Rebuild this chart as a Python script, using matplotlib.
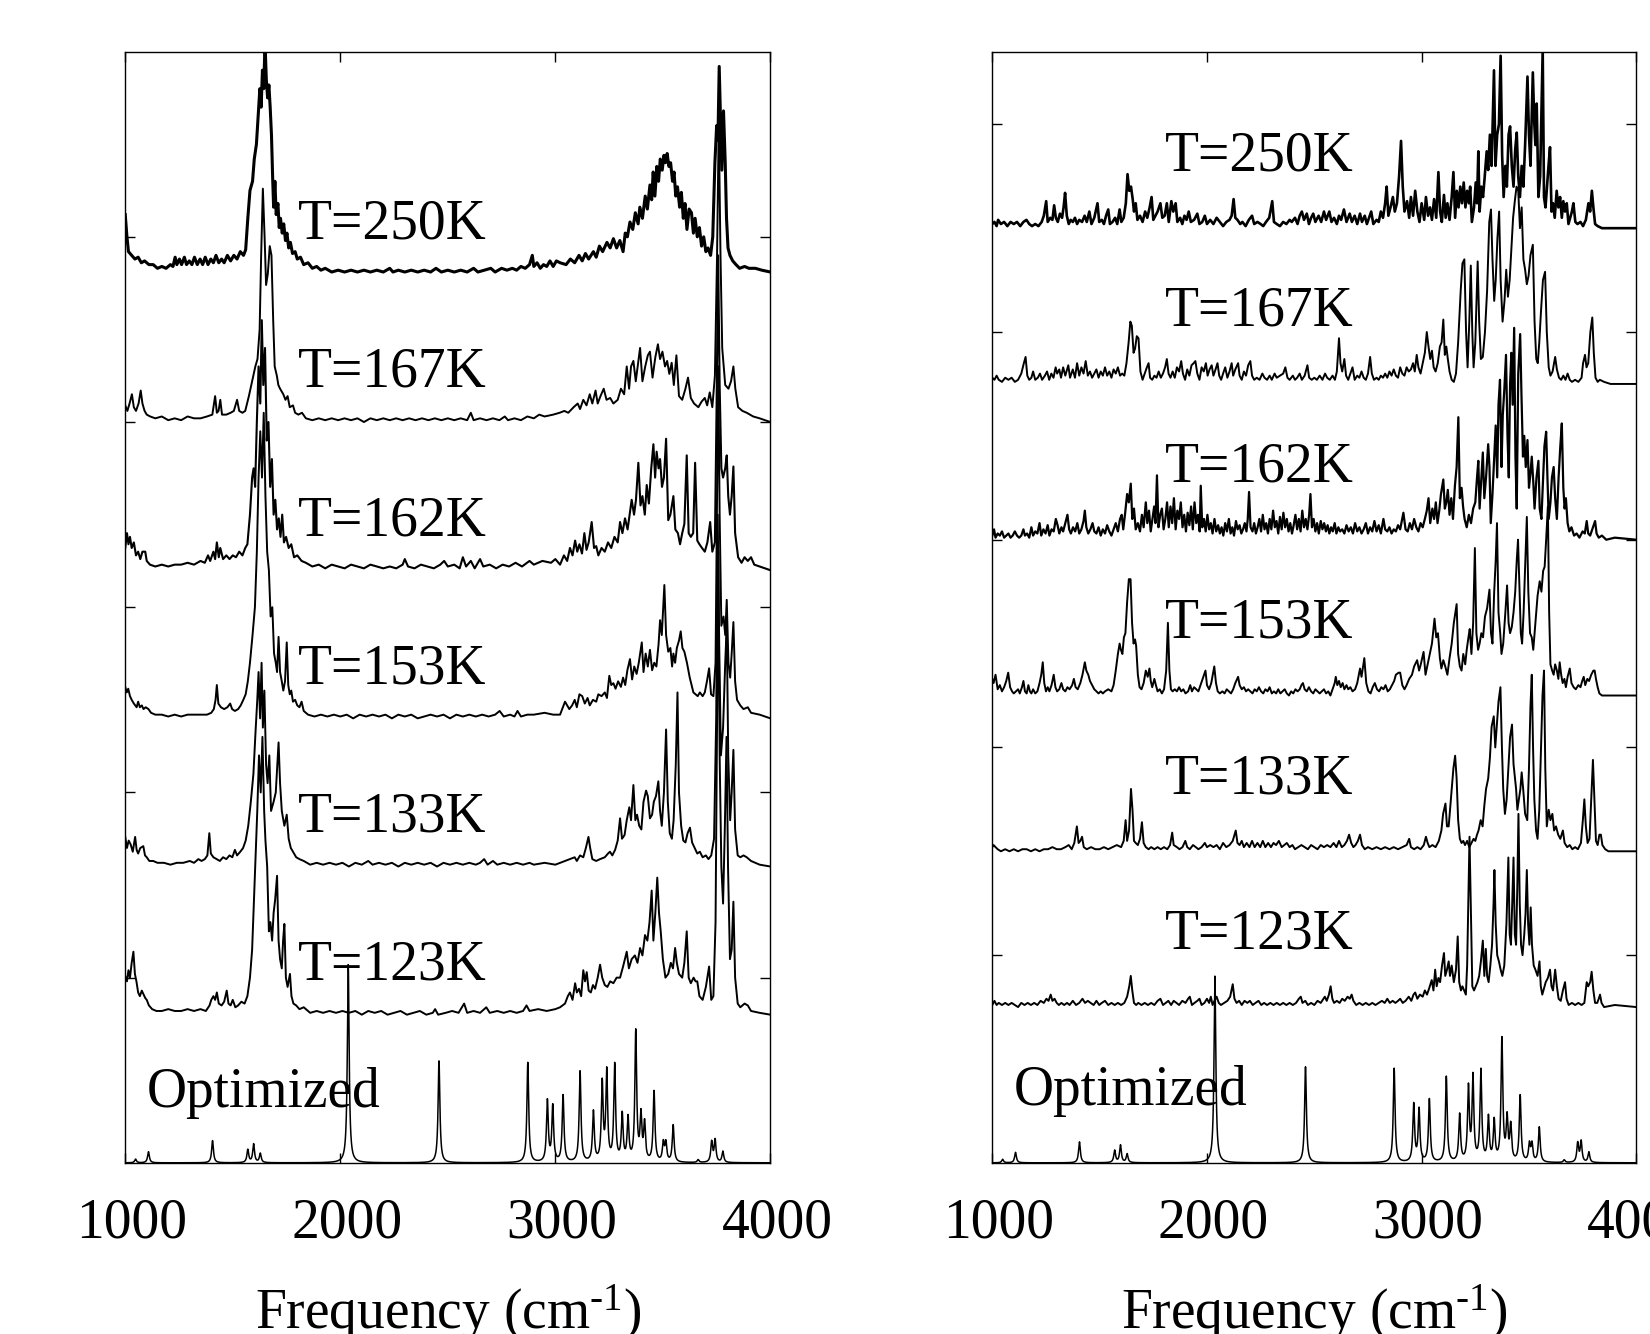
import numpy as np
import matplotlib.pyplot as plt
from matplotlib.transforms import ScaledTranslation

plt.rcParams['font.family'] = ['Liberation Serif', 'DejaVu Serif']
plt.rcParams['mathtext.fontset'] = 'custom'
plt.rcParams['mathtext.rm'] = 'Liberation Serif'
plt.rcParams['mathtext.it'] = 'Liberation Serif:italic'

# ---------------------------------------------------------------
# data: (frequency, intensity above baseline)
# ---------------------------------------------------------------
LABELS = ['T=250K', 'T=167K', 'T=162K', 'T=153K', 'T=133K', 'T=123K']
LEFT_OFFSETS = [4.8, 4.0, 3.2, 2.4, 1.6, 0.8]
RIGHT_OFFSETS = [4.5, 3.75, 3.0, 2.25, 1.5, 0.75]

# optimized structure: stick positions and intensities (left-panel units)
OPT_POS = [1048, 1108, 1406, 1570, 1597, 1628, 2037, 2459, 2872, 2963, 2988,
           3036, 3115, 3177, 3218, 3239, 3276, 3311, 3338, 3374, 3398, 3415,
           3459, 3502, 3514, 3548, 3664, 3727, 3743, 3779]
OPT_INT = [0.02, 0.06, 0.12, 0.07, 0.1, 0.05, 1.07, 0.55, 0.54, 0.33, 0.3,
           0.36, 0.49, 0.27, 0.42, 0.48, 0.52, 0.25, 0.23, 0.7, 0.24, 0.2,
           0.38, 0.1, 0.1, 0.2, 0.015, 0.11, 0.12, 0.06]
OPT_RIGHT_SCALE = 0.84

L_250K = [
    (1000, 0.32), (1008, 0.2), (1015, 0.12), (1030, 0.1), (1045, 0.08), (1060, 0.09),
    (1075, 0.06), (1090, 0.07), (1110, 0.05), (1130, 0.05), (1150, 0.03), (1170, 0.04),
    (1190, 0.03), (1210, 0.05), (1222, 0.04), (1232, 0.09), (1240, 0.05), (1252, 0.08),
    (1262, 0.05), (1275, 0.09), (1285, 0.05), (1298, 0.07), (1310, 0.05), (1322, 0.09),
    (1335, 0.05), (1348, 0.08), (1360, 0.05), (1372, 0.09), (1385, 0.05), (1398, 0.08),
    (1410, 0.06), (1422, 0.1), (1435, 0.06), (1448, 0.08), (1460, 0.06), (1475, 0.1),
    (1490, 0.07), (1505, 0.1), (1520, 0.08), (1535, 0.12), (1550, 0.1), (1560, 0.13),
    (1570, 0.3), (1580, 0.45), (1592, 0.5), (1600, 0.62), (1610, 0.7), (1618, 0.85),
    (1626, 1.0), (1632, 0.9), (1638, 1.1), (1644, 1.0), (1650, 1.25), (1656, 1.05),
    (1662, 0.95), (1668, 1.02), (1674, 0.9), (1680, 0.75), (1686, 0.5), (1690, 0.36),
    (1696, 0.5), (1702, 0.32), (1710, 0.38), (1716, 0.25), (1722, 0.3), (1730, 0.22),
    (1737, 0.27), (1745, 0.18), (1752, 0.22), (1760, 0.14), (1768, 0.17), (1778, 0.11),
    (1790, 0.12), (1800, 0.08), (1815, 0.09), (1830, 0.05), (1850, 0.06), (1870, 0.03),
    (1890, 0.04), (1910, 0.02), (1930, 0.03), (1960, 0.01), (1990, 0.02), (2020, 0.01),
    (2050, 0.02), (2080, 0.01), (2110, 0.02), (2140, 0.01), (2170, 0.02), (2200, 0.01),
    (2230, 0.03), (2245, 0.01), (2270, 0.02), (2300, 0.01), (2330, 0.02), (2360, 0.01),
    (2390, 0.02), (2420, 0.01), (2445, 0.03), (2470, 0.01), (2500, 0.02), (2530, 0.01),
    (2560, 0.02), (2590, 0.01), (2620, 0.03), (2640, 0.01), (2670, 0.02), (2700, 0.03),
    (2720, 0.01), (2750, 0.03), (2775, 0.02), (2800, 0.03), (2820, 0.02), (2840, 0.04),
    (2860, 0.03), (2880, 0.05), (2893, 0.1), (2900, 0.04), (2915, 0.06), (2930, 0.03),
    (2945, 0.05), (2960, 0.04), (2975, 0.07), (2990, 0.04), (3005, 0.07), (3022, 0.06),
    (3050, 0.05), (3070, 0.08), (3090, 0.06), (3110, 0.1), (3125, 0.07), (3140, 0.11),
    (3155, 0.08), (3177, 0.12), (3190, 0.09), (3205, 0.15), (3220, 0.12), (3240, 0.17),
    (3255, 0.14), (3270, 0.19), (3285, 0.14), (3300, 0.18), (3315, 0.12), (3325, 0.22),
    (3335, 0.2), (3347, 0.28), (3360, 0.24), (3372, 0.33), (3385, 0.27), (3393, 0.36),
    (3405, 0.3), (3418, 0.42), (3428, 0.35), (3440, 0.48), (3448, 0.4), (3455, 0.55),
    (3463, 0.42), (3472, 0.58), (3480, 0.5), (3488, 0.62), (3497, 0.56), (3505, 0.64),
    (3512, 0.6), (3520, 0.65), (3528, 0.58), (3536, 0.6), (3545, 0.5), (3552, 0.55),
    (3560, 0.42), (3568, 0.47), (3578, 0.36), (3586, 0.44), (3595, 0.3), (3603, 0.38),
    (3612, 0.24), (3622, 0.35), (3633, 0.33), (3642, 0.22), (3650, 0.3), (3660, 0.2),
    (3670, 0.25), (3680, 0.15), (3690, 0.2), (3700, 0.12), (3710, 0.14), (3722, 0.1),
    (3732, 0.2), (3742, 0.6), (3750, 0.8), (3756, 0.72), (3762, 1.12), (3768, 0.85),
    (3774, 0.56), (3782, 0.88), (3790, 0.6), (3796, 0.3), (3803, 0.14), (3812, 0.1),
    (3825, 0.07), (3840, 0.05), (3857, 0.03), (3880, 0.04), (3900, 0.03), (3930, 0.03),
    (3960, 0.02), (4000, 0.01)]

L_167K = [
    (1000, 0.09), (1010, 0.06), (1020, 0.1), (1031, 0.15), (1040, 0.08), (1050, 0.06),
    (1062, 0.1), (1072, 0.17), (1080, 0.1), (1090, 0.06), (1100, 0.04), (1116, 0.03),
    (1140, 0.02), (1170, 0.03), (1200, 0.01), (1230, 0.02), (1260, 0.01), (1290, 0.03),
    (1320, 0.02), (1350, 0.02), (1380, 0.03), (1405, 0.04), (1418, 0.14), (1426, 0.05),
    (1434, 0.06), (1442, 0.12), (1450, 0.04), (1470, 0.04), (1490, 0.05), (1505, 0.06),
    (1520, 0.12), (1530, 0.06), (1545, 0.05), (1558, 0.06), (1575, 0.14), (1590, 0.22),
    (1605, 0.3), (1615, 0.34), (1625, 0.5), (1632, 0.9), (1640, 1.26), (1648, 1.0),
    (1655, 0.74), (1663, 0.8), (1672, 0.95), (1680, 0.9), (1688, 0.55), (1695, 0.3),
    (1705, 0.25), (1712, 0.2), (1720, 0.18), (1735, 0.15), (1745, 0.12), (1755, 0.14),
    (1765, 0.08), (1780, 0.09), (1790, 0.05), (1805, 0.04), (1822, 0.05), (1840, 0.02),
    (1870, 0.01), (1900, 0.02), (1930, 0.01), (1960, 0.02), (1990, 0.01), (2020, 0.02),
    (2050, 0.01), (2080, 0.02), (2110, 0.0), (2140, 0.02), (2170, 0.01), (2200, 0.02),
    (2230, 0.01), (2260, 0.02), (2290, 0.01), (2320, 0.02), (2350, 0.01), (2380, 0.02),
    (2410, 0.01), (2440, 0.02), (2470, 0.01), (2500, 0.02), (2530, 0.01), (2560, 0.02),
    (2590, 0.01), (2607, 0.05), (2620, 0.01), (2650, 0.02), (2680, 0.01), (2710, 0.02),
    (2740, 0.01), (2765, 0.03), (2780, 0.01), (2810, 0.02), (2840, 0.01), (2870, 0.03),
    (2900, 0.02), (2925, 0.04), (2950, 0.03), (2990, 0.04), (3020, 0.05), (3042, 0.06),
    (3060, 0.05), (3085, 0.08), (3104, 0.1), (3115, 0.07), (3130, 0.12), (3145, 0.09),
    (3160, 0.15), (3172, 0.1), (3187, 0.17), (3197, 0.1), (3210, 0.14), (3225, 0.18),
    (3238, 0.12), (3255, 0.13), (3270, 0.1), (3290, 0.12), (3305, 0.18), (3320, 0.15),
    (3332, 0.3), (3343, 0.18), (3352, 0.3), (3363, 0.33), (3374, 0.22), (3394, 0.4),
    (3405, 0.22), (3418, 0.3), (3430, 0.36), (3440, 0.38), (3452, 0.24), (3465, 0.35),
    (3477, 0.42), (3487, 0.34), (3498, 0.38), (3510, 0.3), (3520, 0.33), (3530, 0.26),
    (3541, 0.32), (3551, 0.2), (3563, 0.36), (3575, 0.14), (3590, 0.12), (3605, 0.18),
    (3617, 0.24), (3630, 0.13), (3645, 0.1), (3665, 0.08), (3680, 0.11), (3695, 0.13),
    (3706, 0.09), (3718, 0.16), (3730, 0.08), (3742, 0.25), (3752, 0.9), (3760, 1.62),
    (3768, 0.9), (3776, 0.4), (3790, 0.2), (3805, 0.18), (3817, 0.22), (3828, 0.3),
    (3837, 0.18), (3850, 0.08), (3870, 0.06), (3890, 0.05), (3920, 0.03), (3950, 0.02),
    (4000, 0.0)]

L_162K = [
    (1000, 0.12), (1008, 0.2), (1015, 0.14), (1022, 0.18), (1030, 0.12), (1040, 0.15),
    (1050, 0.08), (1060, 0.1), (1070, 0.06), (1080, 0.1), (1093, 0.1), (1100, 0.05),
    (1115, 0.03), (1140, 0.02), (1170, 0.03), (1200, 0.02), (1230, 0.03), (1260, 0.03),
    (1290, 0.04), (1320, 0.03), (1350, 0.05), (1370, 0.04), (1385, 0.08), (1395, 0.05),
    (1410, 0.1), (1418, 0.06), (1426, 0.15), (1435, 0.07), (1442, 0.12), (1455, 0.06),
    (1470, 0.08), (1485, 0.06), (1500, 0.08), (1515, 0.07), (1530, 0.1), (1545, 0.08),
    (1558, 0.12), (1568, 0.14), (1580, 0.3), (1590, 0.5), (1597, 0.55), (1604, 0.45),
    (1612, 0.8), (1620, 1.1), (1628, 0.9), (1635, 1.35), (1642, 1.0), (1650, 1.2),
    (1658, 0.7), (1666, 0.8), (1674, 0.45), (1682, 0.6), (1690, 0.3), (1698, 0.38),
    (1706, 0.22), (1714, 0.28), (1722, 0.18), (1730, 0.3), (1738, 0.15), (1748, 0.18),
    (1760, 0.12), (1772, 0.14), (1785, 0.07), (1800, 0.08), (1820, 0.05), (1840, 0.04),
    (1870, 0.02), (1900, 0.03), (1930, 0.01), (1960, 0.03), (1990, 0.02), (2020, 0.01),
    (2050, 0.03), (2080, 0.02), (2110, 0.01), (2140, 0.03), (2170, 0.02), (2200, 0.01),
    (2230, 0.02), (2260, 0.01), (2290, 0.03), (2300, 0.06), (2315, 0.02), (2345, 0.01),
    (2375, 0.03), (2405, 0.02), (2435, 0.01), (2465, 0.03), (2483, 0.05), (2500, 0.02),
    (2530, 0.03), (2555, 0.01), (2570, 0.07), (2585, 0.02), (2607, 0.05), (2625, 0.01),
    (2650, 0.06), (2665, 0.02), (2695, 0.03), (2725, 0.01), (2755, 0.03), (2785, 0.02),
    (2815, 0.04), (2845, 0.02), (2880, 0.05), (2900, 0.03), (2940, 0.05), (2980, 0.04),
    (3000, 0.06), (3022, 0.03), (3040, 0.08), (3055, 0.05), (3068, 0.12), (3080, 0.08),
    (3092, 0.16), (3102, 0.1), (3112, 0.14), (3124, 0.09), (3135, 0.2), (3145, 0.11),
    (3155, 0.15), (3169, 0.26), (3180, 0.12), (3190, 0.13), (3200, 0.08), (3215, 0.12),
    (3230, 0.1), (3245, 0.15), (3260, 0.12), (3275, 0.18), (3290, 0.15), (3301, 0.26),
    (3312, 0.2), (3324, 0.28), (3336, 0.22), (3355, 0.38), (3366, 0.3), (3375, 0.38),
    (3386, 0.58), (3396, 0.35), (3405, 0.4), (3416, 0.3), (3425, 0.46), (3435, 0.36),
    (3446, 0.55), (3456, 0.68), (3464, 0.5), (3471, 0.64), (3480, 0.55), (3487, 0.6),
    (3496, 0.45), (3505, 0.5), (3515, 0.71), (3525, 0.27), (3535, 0.3), (3549, 0.4),
    (3558, 0.22), (3570, 0.2), (3580, 0.14), (3590, 0.2), (3600, 0.25), (3611, 0.62),
    (3620, 0.2), (3630, 0.18), (3641, 0.2), (3650, 0.58), (3660, 0.16), (3670, 0.14),
    (3682, 0.12), (3695, 0.1), (3707, 0.15), (3720, 0.26), (3730, 0.1), (3742, 0.15),
    (3750, 0.9), (3757, 1.7), (3764, 1.0), (3772, 0.55), (3780, 0.5), (3790, 0.55),
    (3797, 0.62), (3804, 0.4), (3812, 0.3), (3820, 0.4), (3828, 0.56), (3836, 0.2),
    (3850, 0.07), (3866, 0.04), (3880, 0.07), (3895, 0.05), (3910, 0.07), (3925, 0.03),
    (3950, 0.02), (4000, 0.0)]

L_153K = [
    (1000, 0.17), (1007, 0.14), (1014, 0.16), (1022, 0.12), (1030, 0.1), (1040, 0.08),
    (1053, 0.06), (1060, 0.09), (1068, 0.06), (1077, 0.07), (1085, 0.05), (1095, 0.06),
    (1108, 0.05), (1120, 0.03), (1140, 0.02), (1170, 0.02), (1200, 0.01), (1230, 0.02),
    (1260, 0.01), (1290, 0.02), (1320, 0.02), (1350, 0.02), (1380, 0.02), (1400, 0.03),
    (1412, 0.05), (1420, 0.1), (1426, 0.18), (1433, 0.08), (1445, 0.06), (1460, 0.05),
    (1475, 0.06), (1488, 0.08), (1497, 0.05), (1510, 0.04), (1525, 0.05), (1537, 0.07),
    (1549, 0.1), (1560, 0.13), (1570, 0.2), (1580, 0.3), (1592, 0.45), (1603, 0.6),
    (1612, 0.9), (1620, 1.3), (1628, 1.55), (1636, 1.3), (1644, 1.65), (1652, 1.2),
    (1660, 0.9), (1668, 0.8), (1676, 0.55), (1684, 0.6), (1692, 0.35), (1700, 0.3),
    (1706, 0.25), (1713, 0.44), (1720, 0.25), (1728, 0.2), (1735, 0.15), (1743, 0.2),
    (1751, 0.41), (1758, 0.18), (1765, 0.13), (1772, 0.15), (1780, 0.09), (1790, 0.1),
    (1800, 0.07), (1810, 0.06), (1820, 0.09), (1830, 0.04), (1850, 0.02), (1880, 0.01),
    (1910, 0.02), (1940, 0.01), (1970, 0.02), (2000, 0.01), (2030, 0.02), (2060, 0.0),
    (2090, 0.02), (2120, 0.01), (2150, 0.02), (2180, 0.01), (2210, 0.02), (2240, 0.0),
    (2270, 0.02), (2300, 0.01), (2330, 0.02), (2360, 0.0), (2390, 0.01), (2420, 0.02),
    (2450, 0.01), (2480, 0.02), (2510, 0.0), (2540, 0.02), (2570, 0.01), (2600, 0.02),
    (2630, 0.01), (2660, 0.02), (2690, 0.01), (2720, 0.02), (2741, 0.04), (2760, 0.01),
    (2790, 0.02), (2810, 0.01), (2824, 0.04), (2840, 0.01), (2870, 0.02), (2900, 0.02),
    (2950, 0.03), (2990, 0.02), (3022, 0.02), (3035, 0.06), (3045, 0.09), (3055, 0.07),
    (3065, 0.05), (3078, 0.07), (3090, 0.1), (3100, 0.06), (3112, 0.13), (3125, 0.12),
    (3137, 0.08), (3150, 0.11), (3160, 0.07), (3175, 0.1), (3190, 0.09), (3200, 0.13),
    (3215, 0.12), (3230, 0.14), (3240, 0.11), (3251, 0.23), (3260, 0.18), (3270, 0.19),
    (3280, 0.16), (3292, 0.2), (3305, 0.17), (3315, 0.22), (3325, 0.18), (3335, 0.26),
    (3347, 0.32), (3357, 0.21), (3367, 0.28), (3378, 0.24), (3388, 0.3), (3402, 0.41),
    (3410, 0.25), (3420, 0.35), (3430, 0.28), (3440, 0.37), (3450, 0.26), (3460, 0.3),
    (3470, 0.28), (3480, 0.4), (3487, 0.53), (3495, 0.45), (3507, 0.72), (3515, 0.45),
    (3525, 0.36), (3535, 0.38), (3543, 0.28), (3549, 0.35), (3557, 0.3), (3565, 0.38),
    (3575, 0.42), (3583, 0.47), (3591, 0.38), (3600, 0.36), (3612, 0.3), (3625, 0.22),
    (3642, 0.14), (3652, 0.13), (3662, 0.12), (3672, 0.14), (3685, 0.12), (3695, 0.14),
    (3705, 0.2), (3715, 0.27), (3724, 0.13), (3735, 0.12), (3745, 0.3), (3752, 1.2),
    (3758, 1.9), (3764, 1.1), (3772, 0.5), (3782, 0.55), (3790, 0.45), (3797, 0.64),
    (3805, 0.3), (3813, 0.22), (3820, 0.35), (3828, 0.52), (3836, 0.2), (3845, 0.1),
    (3860, 0.07), (3875, 0.05), (3895, 0.06), (3910, 0.03), (3950, 0.02), (4000, 0.0)]

L_133K = [
    (1000, 0.16), (1008, 0.1), (1016, 0.14), (1025, 0.12), (1035, 0.08), (1046, 0.16),
    (1053, 0.09), (1060, 0.07), (1070, 0.1), (1084, 0.11), (1092, 0.06), (1100, 0.05),
    (1112, 0.03), (1130, 0.03), (1150, 0.02), (1180, 0.02), (1210, 0.01), (1240, 0.02),
    (1270, 0.02), (1300, 0.03), (1320, 0.02), (1340, 0.04), (1355, 0.03), (1370, 0.04),
    (1382, 0.06), (1391, 0.18), (1398, 0.07), (1410, 0.05), (1425, 0.04), (1440, 0.03),
    (1455, 0.05), (1470, 0.04), (1485, 0.06), (1498, 0.05), (1510, 0.09), (1520, 0.06),
    (1535, 0.08), (1548, 0.1), (1560, 0.14), (1572, 0.22), (1584, 0.35), (1596, 0.5),
    (1606, 0.73), (1614, 0.9), (1620, 1.05), (1627, 0.8), (1634, 1.1), (1640, 0.75),
    (1647, 0.95), (1655, 0.55), (1662, 0.45), (1670, 0.6), (1678, 0.3), (1690, 0.35),
    (1700, 0.4), (1707, 0.55), (1713, 0.67), (1720, 0.45), (1728, 0.3), (1740, 0.22),
    (1751, 0.28), (1760, 0.15), (1770, 0.1), (1780, 0.08), (1795, 0.05), (1810, 0.04),
    (1830, 0.03), (1860, 0.01), (1890, 0.02), (1920, 0.01), (1950, 0.02), (1980, 0.01),
    (2010, 0.02), (2040, 0.0), (2070, 0.02), (2100, 0.01), (2130, 0.03), (2150, 0.01),
    (2180, 0.02), (2210, 0.01), (2240, 0.02), (2270, 0.0), (2300, 0.02), (2330, 0.01),
    (2360, 0.02), (2390, 0.01), (2420, 0.02), (2450, 0.0), (2480, 0.02), (2510, 0.01),
    (2540, 0.02), (2570, 0.01), (2600, 0.02), (2630, 0.01), (2650, 0.02), (2669, 0.04),
    (2685, 0.01), (2710, 0.03), (2730, 0.01), (2760, 0.02), (2790, 0.01), (2820, 0.02),
    (2850, 0.01), (2880, 0.02), (2900, 0.01), (2950, 0.02), (3000, 0.01), (3022, 0.02),
    (3045, 0.03), (3068, 0.04), (3090, 0.05), (3100, 0.03), (3115, 0.06), (3130, 0.05),
    (3142, 0.1), (3154, 0.16), (3162, 0.1), (3172, 0.04), (3190, 0.03), (3208, 0.04),
    (3230, 0.05), (3245, 0.07), (3254, 0.08), (3265, 0.06), (3278, 0.09), (3290, 0.14),
    (3301, 0.26), (3310, 0.15), (3322, 0.17), (3332, 0.25), (3344, 0.32), (3352, 0.25),
    (3363, 0.44), (3372, 0.25), (3380, 0.28), (3390, 0.22), (3400, 0.2), (3410, 0.35),
    (3422, 0.41), (3430, 0.38), (3440, 0.26), (3450, 0.28), (3458, 0.35), (3468, 0.38),
    (3479, 0.46), (3487, 0.3), (3495, 0.22), (3505, 0.4), (3515, 0.74), (3523, 0.35),
    (3532, 0.18), (3542, 0.15), (3550, 0.25), (3560, 0.55), (3568, 0.94), (3575, 0.4),
    (3585, 0.22), (3595, 0.14), (3605, 0.13), (3615, 0.18), (3626, 0.21), (3636, 0.13),
    (3648, 0.1), (3660, 0.07), (3672, 0.08), (3685, 0.05), (3700, 0.06), (3712, 0.04),
    (3725, 0.06), (3738, 0.15), (3748, 0.8), (3755, 1.9), (3762, 1.2), (3770, 0.6),
    (3780, 0.75), (3790, 1.1), (3797, 1.3), (3804, 0.6), (3813, 0.25), (3820, 0.4),
    (3828, 0.63), (3836, 0.2), (3848, 0.06), (3860, 0.05), (3875, 0.06), (3890, 0.05),
    (3910, 0.03), (3950, 0.01), (4000, 0.0)]

L_123K = [
    (1000, 0.21), (1008, 0.18), (1015, 0.24), (1022, 0.2), (1030, 0.28), (1038, 0.34),
    (1045, 0.22), (1052, 0.18), (1060, 0.12), (1068, 0.1), (1077, 0.13), (1085, 0.11),
    (1093, 0.09), (1100, 0.08), (1110, 0.05), (1125, 0.03), (1145, 0.02), (1170, 0.02),
    (1200, 0.03), (1230, 0.02), (1260, 0.02), (1290, 0.03), (1320, 0.02), (1350, 0.03),
    (1375, 0.02), (1392, 0.05), (1400, 0.08), (1410, 0.1), (1418, 0.08), (1426, 0.12),
    (1435, 0.06), (1448, 0.05), (1460, 0.07), (1472, 0.13), (1480, 0.06), (1490, 0.05),
    (1500, 0.08), (1512, 0.04), (1525, 0.05), (1540, 0.07), (1555, 0.06), (1568, 0.1),
    (1580, 0.2), (1590, 0.35), (1598, 0.6), (1606, 0.85), (1614, 1.1), (1622, 1.4),
    (1630, 1.2), (1638, 1.5), (1646, 1.1), (1652, 0.94), (1660, 0.8), (1668, 0.45),
    (1675, 0.5), (1683, 0.4), (1690, 0.55), (1697, 0.62), (1706, 0.75), (1713, 0.4),
    (1720, 0.3), (1728, 0.25), (1734, 0.4), (1740, 0.49), (1747, 0.2), (1755, 0.15),
    (1766, 0.22), (1773, 0.1), (1782, 0.06), (1795, 0.05), (1810, 0.03), (1830, 0.04),
    (1860, 0.01), (1890, 0.02), (1920, 0.01), (1950, 0.02), (1980, 0.01), (2010, 0.02),
    (2040, 0.01), (2070, 0.02), (2100, 0.0), (2130, 0.02), (2160, 0.01), (2190, 0.02),
    (2220, 0.0), (2250, 0.01), (2280, 0.02), (2310, 0.0), (2340, 0.01), (2370, 0.02),
    (2400, 0.0), (2430, 0.01), (2441, 0.03), (2455, 0.0), (2490, 0.01), (2520, 0.02),
    (2550, 0.01), (2576, 0.06), (2590, 0.01), (2620, 0.02), (2650, 0.01), (2679, 0.04),
    (2695, 0.01), (2730, 0.02), (2760, 0.01), (2790, 0.02), (2820, 0.01), (2850, 0.02),
    (2866, 0.05), (2880, 0.02), (2920, 0.03), (2960, 0.02), (3000, 0.03), (3022, 0.04),
    (3045, 0.06), (3058, 0.1), (3068, 0.12), (3080, 0.08), (3092, 0.17), (3100, 0.12),
    (3110, 0.14), (3120, 0.1), (3130, 0.24), (3138, 0.18), (3146, 0.23), (3155, 0.13),
    (3165, 0.12), (3175, 0.16), (3185, 0.14), (3197, 0.2), (3208, 0.27), (3218, 0.2),
    (3230, 0.16), (3242, 0.15), (3255, 0.18), (3270, 0.17), (3285, 0.2), (3301, 0.2),
    (3315, 0.26), (3332, 0.34), (3342, 0.25), (3355, 0.3), (3370, 0.32), (3382, 0.28),
    (3394, 0.36), (3405, 0.32), (3417, 0.43), (3428, 0.4), (3438, 0.5), (3448, 0.67),
    (3456, 0.4), (3465, 0.55), (3474, 0.74), (3482, 0.55), (3490, 0.45), (3500, 0.3),
    (3512, 0.2), (3525, 0.22), (3537, 0.28), (3547, 0.25), (3557, 0.36), (3565, 0.28),
    (3575, 0.22), (3590, 0.2), (3600, 0.28), (3611, 0.45), (3620, 0.2), (3630, 0.17),
    (3643, 0.2), (3652, 0.18), (3660, 0.18), (3670, 0.1), (3685, 0.08), (3700, 0.15),
    (3715, 0.26), (3725, 0.08), (3735, 0.1), (3745, 0.5), (3752, 1.6), (3758, 2.5),
    (3764, 1.4), (3772, 0.8), (3780, 0.6), (3788, 1.0), (3796, 1.5), (3803, 0.8),
    (3812, 0.3), (3820, 0.35), (3828, 0.61), (3836, 0.2), (3848, 0.06), (3860, 0.04),
    (3880, 0.06), (3895, 0.05), (3910, 0.02), (3950, 0.01), (4000, 0.0)]

R_250K = [
    (1000, 0.02), (1010, 0.03), (1020, 0.01), (1027, 0.04), (1040, 0.02), (1055, 0.03),
    (1070, 0.01), (1085, 0.03), (1100, 0.02), (1115, 0.03), (1130, 0.01), (1145, 0.03),
    (1159, 0.04), (1172, 0.02), (1185, 0.01), (1200, 0.02), (1215, 0.01), (1230, 0.03),
    (1240, 0.06), (1251, 0.13), (1258, 0.03), (1270, 0.05), (1280, 0.04), (1288, 0.11),
    (1296, 0.05), (1305, 0.03), (1315, 0.07), (1325, 0.05), (1332, 0.1), (1339, 0.17),
    (1347, 0.06), (1356, 0.02), (1365, 0.04), (1375, 0.03), (1385, 0.05), (1395, 0.02),
    (1405, 0.04), (1418, 0.03), (1430, 0.06), (1440, 0.03), (1452, 0.08), (1462, 0.02),
    (1475, 0.05), (1490, 0.12), (1498, 0.03), (1510, 0.04), (1520, 0.02), (1530, 0.06),
    (1540, 0.09), (1548, 0.02), (1560, 0.03), (1572, 0.05), (1582, 0.02), (1593, 0.09),
    (1601, 0.03), (1612, 0.05), (1622, 0.12), (1630, 0.26), (1638, 0.18), (1646, 0.2),
    (1654, 0.14), (1660, 0.08), (1668, 0.12), (1676, 0.04), (1688, 0.06), (1700, 0.03),
    (1712, 0.08), (1722, 0.05), (1733, 0.1), (1742, 0.15), (1750, 0.04), (1760, 0.06),
    (1770, 0.08), (1783, 0.12), (1792, 0.05), (1803, 0.06), (1813, 0.12), (1822, 0.03),
    (1834, 0.13), (1843, 0.08), (1854, 0.12), (1862, 0.03), (1875, 0.05), (1885, 0.02),
    (1895, 0.06), (1905, 0.04), (1915, 0.08), (1925, 0.03), (1940, 0.04), (1955, 0.07),
    (1965, 0.02), (1978, 0.03), (1990, 0.06), (2000, 0.02), (2015, 0.04), (2030, 0.02),
    (2045, 0.05), (2060, 0.03), (2075, 0.01), (2090, 0.03), (2105, 0.04), (2115, 0.06),
    (2124, 0.14), (2132, 0.05), (2142, 0.04), (2155, 0.02), (2165, 0.03), (2180, 0.01),
    (2195, 0.04), (2210, 0.06), (2220, 0.02), (2235, 0.03), (2250, 0.02), (2262, 0.01),
    (2275, 0.03), (2290, 0.05), (2304, 0.13), (2312, 0.03), (2325, 0.02), (2340, 0.01),
    (2355, 0.03), (2370, 0.02), (2385, 0.04), (2395, 0.03), (2410, 0.05), (2422, 0.02),
    (2432, 0.06), (2442, 0.08), (2452, 0.04), (2465, 0.07), (2475, 0.02), (2485, 0.05),
    (2495, 0.07), (2505, 0.03), (2520, 0.06), (2532, 0.03), (2545, 0.08), (2555, 0.04),
    (2570, 0.08), (2580, 0.03), (2592, 0.05), (2605, 0.02), (2615, 0.06), (2625, 0.04),
    (2638, 0.09), (2650, 0.03), (2665, 0.07), (2675, 0.03), (2688, 0.06), (2700, 0.02),
    (2713, 0.07), (2722, 0.03), (2735, 0.06), (2745, 0.02), (2755, 0.05), (2765, 0.08),
    (2775, 0.02), (2790, 0.04), (2800, 0.03), (2810, 0.08), (2820, 0.05), (2830, 0.12),
    (2837, 0.2), (2845, 0.06), (2855, 0.1), (2866, 0.15), (2875, 0.08), (2885, 0.12),
    (2895, 0.25), (2904, 0.42), (2912, 0.2), (2920, 0.08), (2932, 0.13), (2942, 0.05),
    (2950, 0.15), (2960, 0.06), (2970, 0.18), (2980, 0.08), (2990, 0.03), (3000, 0.12),
    (3012, 0.04), (3020, 0.15), (3030, 0.06), (3039, 0.1), (3048, 0.04), (3058, 0.14),
    (3068, 0.05), (3078, 0.27), (3086, 0.08), (3094, 0.03), (3104, 0.16), (3112, 0.05),
    (3120, 0.12), (3130, 0.04), (3140, 0.15), (3148, 0.27), (3156, 0.05), (3164, 0.18),
    (3172, 0.1), (3180, 0.2), (3188, 0.12), (3196, 0.22), (3204, 0.1), (3212, 0.18),
    (3220, 0.12), (3226, 0.2), (3234, 0.03), (3244, 0.1), (3252, 0.22), (3258, 0.12),
    (3264, 0.37), (3270, 0.08), (3278, 0.2), (3286, 0.15), (3294, 0.25), (3303, 0.37),
    (3310, 0.28), (3318, 0.45), (3326, 0.3), (3337, 0.76), (3344, 0.3), (3352, 0.45),
    (3360, 0.5), (3368, 0.83), (3375, 0.35), (3382, 0.15), (3390, 0.3), (3397, 0.2),
    (3405, 0.45), (3412, 0.49), (3420, 0.3), (3428, 0.2), (3436, 0.38), (3443, 0.46),
    (3450, 0.25), (3458, 0.15), (3466, 0.3), (3474, 0.2), (3482, 0.4), (3493, 0.73),
    (3500, 0.45), (3507, 0.3), (3512, 0.5), (3518, 0.75), (3525, 0.5), (3530, 0.4),
    (3536, 0.6), (3544, 0.15), (3552, 0.25), (3558, 0.55), (3564, 0.86), (3570, 0.15),
    (3577, 0.1), (3584, 0.2), (3591, 0.3), (3598, 0.39), (3605, 0.08), (3612, 0.12),
    (3620, 0.05), (3629, 0.18), (3637, 0.1), (3645, 0.15), (3653, 0.05), (3660, 0.13),
    (3668, 0.08), (3676, 0.12), (3684, 0.02), (3692, 0.05), (3700, 0.08), (3707, 0.12),
    (3716, 0.03), (3726, 0.02), (3740, 0.03), (3752, 0.01), (3765, 0.04), (3777, 0.12),
    (3785, 0.08), (3793, 0.18), (3800, 0.1), (3808, 0.02), (3820, 0.01), (3840, 0.0),
    (3900, 0.0), (4000, 0.0)]

R_167K = [
    (1000, 0.03), (1010, 0.02), (1020, 0.04), (1030, 0.02), (1045, 0.01), (1060, 0.03),
    (1075, 0.02), (1090, 0.03), (1105, 0.01), (1120, 0.02), (1135, 0.05), (1147, 0.1),
    (1155, 0.13), (1163, 0.04), (1172, 0.02), (1182, 0.03), (1190, 0.06), (1200, 0.02),
    (1212, 0.03), (1222, 0.05), (1232, 0.02), (1245, 0.04), (1255, 0.06), (1265, 0.02),
    (1275, 0.05), (1285, 0.03), (1295, 0.08), (1302, 0.05), (1312, 0.07), (1320, 0.03),
    (1330, 0.08), (1340, 0.04), (1354, 0.09), (1362, 0.03), (1375, 0.07), (1385, 0.03),
    (1395, 0.1), (1405, 0.04), (1415, 0.08), (1425, 0.05), (1435, 0.11), (1445, 0.04),
    (1455, 0.06), (1465, 0.03), (1475, 0.05), (1485, 0.07), (1495, 0.03), (1505, 0.06),
    (1515, 0.04), (1525, 0.08), (1535, 0.04), (1545, 0.06), (1555, 0.03), (1565, 0.07),
    (1575, 0.05), (1585, 0.08), (1595, 0.04), (1605, 0.05), (1615, 0.04), (1625, 0.1),
    (1635, 0.2), (1643, 0.3), (1650, 0.28), (1658, 0.15), (1665, 0.17), (1673, 0.23),
    (1681, 0.22), (1690, 0.06), (1700, 0.02), (1710, 0.05), (1720, 0.08), (1728, 0.1),
    (1735, 0.03), (1745, 0.02), (1755, 0.04), (1765, 0.03), (1775, 0.06), (1785, 0.03),
    (1795, 0.05), (1805, 0.08), (1813, 0.12), (1821, 0.05), (1830, 0.03), (1840, 0.06),
    (1850, 0.03), (1860, 0.08), (1870, 0.06), (1880, 0.11), (1888, 0.05), (1898, 0.02),
    (1908, 0.07), (1918, 0.04), (1928, 0.09), (1938, 0.1), (1946, 0.11), (1955, 0.05),
    (1965, 0.02), (1975, 0.08), (1985, 0.06), (1995, 0.1), (2003, 0.04), (2012, 0.07),
    (2022, 0.09), (2030, 0.04), (2040, 0.07), (2049, 0.1), (2057, 0.04), (2066, 0.02),
    (2075, 0.05), (2085, 0.08), (2095, 0.03), (2105, 0.06), (2115, 0.1), (2122, 0.04),
    (2132, 0.07), (2145, 0.1), (2152, 0.04), (2162, 0.02), (2172, 0.06), (2182, 0.04),
    (2192, 0.09), (2202, 0.11), (2210, 0.04), (2220, 0.02), (2232, 0.03), (2245, 0.02),
    (2258, 0.05), (2268, 0.03), (2280, 0.02), (2292, 0.04), (2302, 0.02), (2315, 0.05),
    (2325, 0.03), (2340, 0.04), (2355, 0.05), (2365, 0.08), (2375, 0.03), (2385, 0.02),
    (2400, 0.04), (2410, 0.02), (2420, 0.03), (2432, 0.05), (2442, 0.02), (2455, 0.04),
    (2468, 0.09), (2476, 0.03), (2488, 0.02), (2500, 0.03), (2512, 0.02), (2525, 0.04),
    (2538, 0.02), (2550, 0.05), (2560, 0.03), (2572, 0.02), (2585, 0.04), (2596, 0.02),
    (2605, 0.06), (2615, 0.22), (2622, 0.1), (2630, 0.06), (2640, 0.12), (2648, 0.04),
    (2658, 0.02), (2668, 0.05), (2678, 0.08), (2688, 0.02), (2700, 0.04), (2710, 0.03),
    (2720, 0.06), (2730, 0.03), (2740, 0.02), (2750, 0.05), (2760, 0.13), (2768, 0.05),
    (2778, 0.02), (2790, 0.03), (2800, 0.02), (2810, 0.04), (2820, 0.03), (2830, 0.05),
    (2840, 0.03), (2850, 0.06), (2860, 0.04), (2870, 0.07), (2880, 0.04), (2890, 0.03),
    (2900, 0.08), (2910, 0.05), (2920, 0.04), (2930, 0.08), (2940, 0.06), (2950, 0.07),
    (2960, 0.1), (2968, 0.06), (2977, 0.14), (2985, 0.08), (2995, 0.05), (3005, 0.1),
    (3015, 0.15), (3024, 0.25), (3032, 0.18), (3040, 0.12), (3048, 0.16), (3056, 0.08),
    (3065, 0.06), (3075, 0.1), (3085, 0.18), (3093, 0.2), (3101, 0.31), (3108, 0.14),
    (3115, 0.18), (3122, 0.12), (3130, 0.06), (3140, 0.02), (3150, 0.01), (3160, 0.05),
    (3170, 0.2), (3182, 0.45), (3190, 0.58), (3199, 0.6), (3207, 0.25), (3214, 0.08),
    (3222, 0.3), (3229, 0.57), (3236, 0.25), (3242, 0.08), (3250, 0.2), (3261, 0.59),
    (3268, 0.3), (3276, 0.12), (3285, 0.13), (3295, 0.25), (3305, 0.45), (3315, 0.78),
    (3323, 0.84), (3330, 0.6), (3338, 0.4), (3345, 0.5), (3353, 0.7), (3361, 0.83),
    (3368, 0.5), (3377, 0.3), (3386, 0.4), (3394, 0.55), (3402, 0.42), (3410, 0.5),
    (3418, 0.65), (3426, 0.8), (3434, 0.88), (3442, 0.95), (3450, 0.93), (3458, 0.75),
    (3466, 0.85), (3474, 0.6), (3482, 0.55), (3490, 0.48), (3498, 0.52), (3507, 0.62),
    (3518, 0.67), (3526, 0.3), (3534, 0.12), (3541, 0.1), (3548, 0.2), (3556, 0.35),
    (3565, 0.5), (3575, 0.54), (3583, 0.25), (3592, 0.08), (3600, 0.04), (3610, 0.06),
    (3622, 0.13), (3630, 0.07), (3640, 0.03), (3650, 0.02), (3660, 0.04), (3670, 0.02),
    (3680, 0.05), (3690, 0.02), (3700, 0.01), (3715, 0.02), (3730, 0.01), (3745, 0.03),
    (3752, 0.1), (3761, 0.14), (3768, 0.08), (3776, 0.1), (3786, 0.25), (3795, 0.32),
    (3802, 0.15), (3810, 0.03), (3820, 0.01), (3830, 0.02), (3850, 0.01), (3880, 0.0),
    (4000, 0.0)]

R_162K = [
    (1000, 0.02), (1008, 0.05), (1015, 0.01), (1025, 0.03), (1035, 0.02), (1045, 0.04),
    (1055, 0.01), (1065, 0.02), (1075, 0.03), (1085, 0.01), (1095, 0.02), (1105, 0.04),
    (1115, 0.02), (1125, 0.01), (1135, 0.02), (1145, 0.05), (1152, 0.02), (1162, 0.03),
    (1172, 0.01), (1182, 0.06), (1190, 0.02), (1200, 0.04), (1210, 0.03), (1220, 0.08),
    (1228, 0.02), (1238, 0.05), (1248, 0.03), (1258, 0.07), (1266, 0.02), (1276, 0.05),
    (1286, 0.04), (1296, 0.1), (1304, 0.07), (1312, 0.03), (1322, 0.06), (1330, 0.04),
    (1340, 0.08), (1350, 0.12), (1358, 0.05), (1366, 0.03), (1376, 0.06), (1386, 0.04),
    (1396, 0.08), (1405, 0.03), (1415, 0.05), (1425, 0.09), (1431, 0.14), (1438, 0.06),
    (1447, 0.03), (1457, 0.05), (1467, 0.08), (1475, 0.04), (1485, 0.03), (1495, 0.06),
    (1505, 0.02), (1515, 0.05), (1525, 0.03), (1535, 0.07), (1545, 0.04), (1555, 0.02),
    (1565, 0.05), (1575, 0.08), (1585, 0.04), (1595, 0.1), (1603, 0.12), (1610, 0.05),
    (1619, 0.13), (1628, 0.22), (1636, 0.18), (1645, 0.27), (1652, 0.1), (1660, 0.15),
    (1668, 0.05), (1678, 0.08), (1688, 0.04), (1697, 0.12), (1705, 0.06), (1715, 0.18),
    (1722, 0.08), (1730, 0.14), (1738, 0.04), (1746, 0.1), (1754, 0.16), (1760, 0.08),
    (1767, 0.31), (1774, 0.06), (1782, 0.12), (1790, 0.15), (1798, 0.05), (1806, 0.1),
    (1814, 0.18), (1822, 0.06), (1830, 0.16), (1838, 0.08), (1846, 0.2), (1854, 0.05),
    (1862, 0.14), (1870, 0.1), (1878, 0.18), (1886, 0.06), (1894, 0.12), (1902, 0.04),
    (1910, 0.13), (1918, 0.07), (1926, 0.16), (1934, 0.05), (1942, 0.18), (1950, 0.08),
    (1958, 0.12), (1966, 0.04), (1971, 0.26), (1978, 0.06), (1986, 0.1), (1994, 0.04),
    (2002, 0.12), (2010, 0.05), (2018, 0.08), (2026, 0.03), (2035, 0.1), (2043, 0.04),
    (2052, 0.07), (2060, 0.03), (2068, 0.06), (2076, 0.02), (2085, 0.08), (2093, 0.04),
    (2102, 0.1), (2110, 0.03), (2118, 0.06), (2126, 0.02), (2135, 0.09), (2143, 0.05),
    (2152, 0.07), (2160, 0.03), (2168, 0.05), (2176, 0.08), (2184, 0.04), (2190, 0.1),
    (2196, 0.23), (2203, 0.06), (2212, 0.04), (2220, 0.08), (2228, 0.03), (2236, 0.06),
    (2244, 0.1), (2252, 0.04), (2260, 0.12), (2268, 0.05), (2276, 0.08), (2284, 0.03),
    (2292, 0.1), (2300, 0.05), (2308, 0.14), (2316, 0.06), (2324, 0.09), (2332, 0.03),
    (2340, 0.11), (2348, 0.05), (2356, 0.13), (2364, 0.06), (2372, 0.1), (2380, 0.04),
    (2388, 0.08), (2396, 0.03), (2404, 0.07), (2412, 0.12), (2420, 0.05), (2428, 0.1),
    (2436, 0.04), (2444, 0.14), (2452, 0.06), (2460, 0.1), (2468, 0.05), (2476, 0.12),
    (2482, 0.22), (2489, 0.06), (2497, 0.1), (2505, 0.04), (2513, 0.08), (2521, 0.03),
    (2530, 0.09), (2538, 0.05), (2546, 0.08), (2554, 0.04), (2562, 0.07), (2570, 0.03),
    (2578, 0.06), (2586, 0.04), (2595, 0.08), (2603, 0.03), (2612, 0.06), (2620, 0.04),
    (2630, 0.05), (2640, 0.03), (2650, 0.07), (2660, 0.04), (2670, 0.06), (2680, 0.03),
    (2690, 0.08), (2700, 0.04), (2710, 0.06), (2720, 0.03), (2730, 0.05), (2740, 0.08),
    (2750, 0.03), (2760, 0.06), (2770, 0.04), (2780, 0.09), (2790, 0.04), (2800, 0.07),
    (2810, 0.03), (2822, 0.1), (2830, 0.05), (2840, 0.04), (2850, 0.06), (2860, 0.03),
    (2870, 0.05), (2880, 0.04), (2890, 0.07), (2900, 0.05), (2915, 0.13), (2925, 0.05),
    (2935, 0.04), (2945, 0.08), (2955, 0.05), (2965, 0.1), (2975, 0.06), (2985, 0.04),
    (2995, 0.08), (3005, 0.06), (3015, 0.1), (3024, 0.14), (3032, 0.2), (3040, 0.08),
    (3050, 0.15), (3058, 0.1), (3066, 0.18), (3074, 0.08), (3082, 0.14), (3090, 0.22),
    (3101, 0.29), (3108, 0.15), (3115, 0.18), (3122, 0.24), (3130, 0.12), (3138, 0.2),
    (3146, 0.1), (3155, 0.26), (3163, 0.35), (3171, 0.59), (3178, 0.2), (3186, 0.25),
    (3193, 0.16), (3200, 0.1), (3210, 0.06), (3220, 0.12), (3230, 0.08), (3240, 0.15),
    (3250, 0.18), (3258, 0.3), (3264, 0.38), (3270, 0.15), (3277, 0.28), (3285, 0.42),
    (3292, 0.2), (3300, 0.3), (3310, 0.46), (3316, 0.35), (3322, 0.08), (3330, 0.22),
    (3338, 0.4), (3345, 0.55), (3352, 0.3), (3358, 0.65), (3365, 0.77), (3372, 0.35),
    (3378, 0.6), (3385, 0.72), (3393, 0.89), (3400, 0.5), (3406, 0.3), (3412, 0.75),
    (3418, 0.9), (3424, 0.65), (3431, 1.02), (3437, 0.4), (3443, 0.15), (3450, 0.8),
    (3459, 0.99), (3465, 0.7), (3472, 0.4), (3478, 0.5), (3485, 0.35), (3493, 0.48),
    (3500, 0.25), (3507, 0.32), (3513, 0.4), (3520, 0.28), (3526, 0.15), (3535, 0.3),
    (3544, 0.38), (3550, 0.15), (3558, 0.1), (3565, 0.28), (3572, 0.45), (3580, 0.52),
    (3586, 0.3), (3592, 0.1), (3600, 0.18), (3607, 0.3), (3615, 0.35), (3622, 0.2),
    (3630, 0.1), (3638, 0.3), (3646, 0.45), (3653, 0.56), (3660, 0.25), (3666, 0.15),
    (3672, 0.2), (3680, 0.08), (3688, 0.04), (3698, 0.06), (3710, 0.02), (3722, 0.03),
    (3735, 0.01), (3750, 0.04), (3760, 0.03), (3769, 0.09), (3776, 0.03), (3785, 0.02),
    (3795, 0.05), (3808, 0.09), (3815, 0.03), (3825, 0.01), (3840, 0.02), (3860, 0.0),
    (3900, 0.01), (4000, 0.0)]

R_153K = [
    (1000, 0.08), (1006, 0.06), (1015, 0.1), (1025, 0.03), (1035, 0.05), (1045, 0.02),
    (1055, 0.04), (1065, 0.07), (1074, 0.11), (1083, 0.04), (1092, 0.02), (1100, 0.01),
    (1110, 0.02), (1120, 0.03), (1128, 0.01), (1138, 0.04), (1145, 0.07), (1152, 0.02),
    (1160, 0.01), (1168, 0.05), (1175, 0.02), (1182, 0.01), (1190, 0.03), (1200, 0.01),
    (1210, 0.02), (1220, 0.06), (1228, 0.1), (1235, 0.16), (1242, 0.06), (1250, 0.02),
    (1258, 0.04), (1266, 0.02), (1276, 0.05), (1286, 0.1), (1294, 0.04), (1302, 0.02),
    (1312, 0.03), (1322, 0.06), (1330, 0.03), (1340, 0.02), (1350, 0.04), (1360, 0.03),
    (1372, 0.05), (1380, 0.08), (1388, 0.04), (1398, 0.03), (1410, 0.06), (1420, 0.1),
    (1431, 0.16), (1438, 0.12), (1447, 0.1), (1455, 0.07), (1465, 0.05), (1475, 0.03),
    (1485, 0.02), (1495, 0.01), (1505, 0.02), (1515, 0.01), (1525, 0.02), (1540, 0.03),
    (1555, 0.02), (1565, 0.05), (1575, 0.12), (1585, 0.2), (1593, 0.25), (1599, 0.22),
    (1606, 0.2), (1613, 0.28), (1620, 0.3), (1628, 0.45), (1636, 0.56), (1644, 0.56),
    (1651, 0.35), (1658, 0.25), (1665, 0.27), (1670, 0.24), (1678, 0.1), (1686, 0.04),
    (1695, 0.03), (1705, 0.06), (1715, 0.12), (1724, 0.09), (1732, 0.13), (1738, 0.07),
    (1745, 0.04), (1755, 0.08), (1762, 0.05), (1770, 0.02), (1780, 0.03), (1790, 0.01),
    (1800, 0.03), (1810, 0.12), (1818, 0.35), (1825, 0.12), (1832, 0.03), (1840, 0.02),
    (1850, 0.03), (1860, 0.02), (1870, 0.04), (1880, 0.02), (1890, 0.03), (1900, 0.01),
    (1912, 0.02), (1922, 0.05), (1930, 0.02), (1940, 0.04), (1950, 0.03), (1960, 0.02),
    (1970, 0.05), (1980, 0.08), (1993, 0.12), (2000, 0.05), (2010, 0.03), (2020, 0.06),
    (2034, 0.14), (2042, 0.06), (2050, 0.02), (2060, 0.01), (2072, 0.02), (2082, 0.01),
    (2092, 0.03), (2102, 0.02), (2112, 0.01), (2122, 0.03), (2132, 0.06), (2145, 0.09),
    (2152, 0.05), (2162, 0.03), (2172, 0.04), (2182, 0.02), (2192, 0.03), (2202, 0.02),
    (2212, 0.01), (2222, 0.03), (2232, 0.02), (2242, 0.04), (2252, 0.02), (2262, 0.01),
    (2272, 0.03), (2282, 0.02), (2292, 0.04), (2302, 0.01), (2312, 0.02), (2322, 0.01),
    (2332, 0.03), (2342, 0.01), (2352, 0.02), (2362, 0.03), (2372, 0.01), (2382, 0.0),
    (2392, 0.02), (2402, 0.01), (2412, 0.03), (2422, 0.02), (2432, 0.03), (2440, 0.05),
    (2447, 0.06), (2455, 0.03), (2465, 0.02), (2475, 0.04), (2485, 0.02), (2495, 0.01),
    (2505, 0.03), (2515, 0.02), (2525, 0.01), (2535, 0.02), (2545, 0.03), (2555, 0.01),
    (2565, 0.02), (2575, 0.0), (2585, 0.03), (2595, 0.06), (2600, 0.09), (2607, 0.05),
    (2615, 0.07), (2623, 0.04), (2632, 0.06), (2640, 0.03), (2650, 0.05), (2658, 0.03),
    (2668, 0.04), (2678, 0.02), (2690, 0.03), (2700, 0.06), (2713, 0.13), (2720, 0.09),
    (2733, 0.18), (2742, 0.06), (2752, 0.02), (2762, 0.01), (2772, 0.04), (2782, 0.06),
    (2792, 0.03), (2802, 0.02), (2812, 0.04), (2822, 0.03), (2832, 0.05), (2842, 0.02),
    (2852, 0.03), (2862, 0.05), (2872, 0.07), (2880, 0.1), (2893, 0.11), (2900, 0.11),
    (2910, 0.05), (2920, 0.03), (2930, 0.05), (2942, 0.08), (2955, 0.1), (2965, 0.14),
    (2979, 0.17), (2988, 0.12), (2996, 0.15), (3009, 0.21), (3018, 0.1), (3028, 0.15),
    (3038, 0.2), (3048, 0.25), (3060, 0.37), (3068, 0.28), (3076, 0.3), (3085, 0.18),
    (3092, 0.13), (3101, 0.17), (3110, 0.14), (3120, 0.1), (3130, 0.18), (3140, 0.25),
    (3150, 0.35), (3163, 0.44), (3170, 0.2), (3178, 0.14), (3186, 0.12), (3194, 0.2),
    (3203, 0.15), (3210, 0.22), (3218, 0.28), (3224, 0.32), (3232, 0.2), (3240, 0.35),
    (3248, 0.71), (3255, 0.3), (3263, 0.22), (3270, 0.25), (3278, 0.3), (3286, 0.28),
    (3295, 0.38), (3305, 0.42), (3316, 0.51), (3323, 0.3), (3330, 0.25), (3338, 0.5),
    (3345, 0.65), (3351, 0.83), (3358, 0.4), (3366, 0.3), (3372, 0.2), (3380, 0.25),
    (3390, 0.4), (3398, 0.53), (3405, 0.35), (3412, 0.3), (3420, 0.33), (3428, 0.4),
    (3436, 0.5), (3443, 0.65), (3449, 0.75), (3456, 0.5), (3462, 0.3), (3468, 0.25),
    (3475, 0.4), (3482, 0.62), (3490, 0.86), (3497, 0.5), (3505, 0.3), (3513, 0.28),
    (3520, 0.22), (3530, 0.35), (3540, 0.48), (3550, 0.55), (3558, 0.5), (3566, 0.6),
    (3573, 0.62), (3580, 0.75), (3588, 0.91), (3594, 0.4), (3600, 0.15), (3608, 0.12),
    (3615, 0.1), (3622, 0.15), (3630, 0.12), (3637, 0.08), (3643, 0.16), (3650, 0.1),
    (3657, 0.06), (3665, 0.08), (3672, 0.04), (3680, 0.09), (3690, 0.13), (3698, 0.06),
    (3708, 0.04), (3718, 0.03), (3730, 0.05), (3740, 0.04), (3748, 0.07), (3755, 0.09),
    (3762, 0.05), (3772, 0.08), (3780, 0.07), (3790, 0.1), (3800, 0.12), (3806, 0.12),
    (3812, 0.08), (3820, 0.04), (3828, 0.01), (3840, 0.0), (3880, 0.0), (4000, 0.0)]

R_133K = [
    (1000, 0.02), (1006, 0.03), (1015, 0.02), (1025, 0.01), (1040, 0.0), (1060, 0.01),
    (1080, 0.0), (1100, 0.01), (1120, 0.0), (1140, 0.01), (1160, 0.01), (1180, 0.0),
    (1200, 0.01), (1220, 0.0), (1240, 0.01), (1260, 0.01), (1280, 0.02), (1300, 0.01),
    (1320, 0.01), (1340, 0.02), (1356, 0.03), (1370, 0.01), (1382, 0.04), (1394, 0.12),
    (1402, 0.04), (1410, 0.05), (1418, 0.07), (1426, 0.02), (1440, 0.01), (1460, 0.02),
    (1480, 0.01), (1500, 0.01), (1520, 0.02), (1540, 0.01), (1560, 0.02), (1580, 0.03),
    (1600, 0.02), (1612, 0.05), (1621, 0.15), (1628, 0.05), (1637, 0.1), (1646, 0.3),
    (1653, 0.2), (1660, 0.05), (1668, 0.04), (1678, 0.03), (1688, 0.06), (1697, 0.14),
    (1705, 0.04), (1715, 0.02), (1728, 0.01), (1740, 0.02), (1755, 0.01), (1770, 0.02),
    (1785, 0.01), (1800, 0.02), (1815, 0.01), (1828, 0.03), (1838, 0.09), (1845, 0.03),
    (1860, 0.02), (1872, 0.01), (1886, 0.02), (1899, 0.05), (1908, 0.02), (1920, 0.01),
    (1935, 0.03), (1948, 0.02), (1960, 0.01), (1975, 0.02), (1990, 0.04), (2000, 0.02),
    (2015, 0.03), (2030, 0.02), (2045, 0.03), (2060, 0.01), (2075, 0.04), (2090, 0.02),
    (2105, 0.03), (2120, 0.05), (2134, 0.1), (2142, 0.04), (2152, 0.03), (2162, 0.05),
    (2172, 0.02), (2185, 0.04), (2198, 0.02), (2210, 0.05), (2222, 0.02), (2235, 0.04),
    (2248, 0.02), (2260, 0.05), (2272, 0.02), (2285, 0.04), (2298, 0.02), (2310, 0.04),
    (2322, 0.03), (2335, 0.05), (2348, 0.02), (2360, 0.03), (2372, 0.04), (2385, 0.02),
    (2398, 0.03), (2410, 0.01), (2425, 0.02), (2440, 0.03), (2455, 0.02), (2470, 0.01),
    (2485, 0.03), (2500, 0.02), (2515, 0.01), (2530, 0.03), (2545, 0.02), (2560, 0.03),
    (2575, 0.02), (2590, 0.04), (2603, 0.02), (2615, 0.05), (2628, 0.02), (2640, 0.03),
    (2652, 0.05), (2662, 0.08), (2672, 0.04), (2682, 0.02), (2692, 0.03), (2703, 0.05),
    (2713, 0.08), (2722, 0.03), (2735, 0.01), (2750, 0.02), (2770, 0.01), (2790, 0.02),
    (2810, 0.01), (2830, 0.02), (2850, 0.01), (2870, 0.02), (2890, 0.01), (2910, 0.02),
    (2930, 0.03), (2942, 0.06), (2950, 0.02), (2965, 0.01), (2980, 0.02), (2995, 0.01),
    (3010, 0.03), (3020, 0.07), (3028, 0.04), (3036, 0.02), (3050, 0.03), (3065, 0.02),
    (3080, 0.05), (3092, 0.1), (3100, 0.18), (3111, 0.23), (3118, 0.12), (3126, 0.12),
    (3140, 0.3), (3148, 0.4), (3156, 0.46), (3163, 0.35), (3170, 0.15), (3178, 0.06),
    (3186, 0.04), (3194, 0.05), (3202, 0.03), (3212, 0.05), (3222, 0.02), (3232, 0.04),
    (3242, 0.06), (3250, 0.05), (3258, 0.08), (3265, 0.1), (3275, 0.15), (3284, 0.12),
    (3292, 0.22), (3300, 0.3), (3310, 0.35), (3318, 0.45), (3326, 0.6), (3336, 0.65),
    (3343, 0.5), (3350, 0.6), (3358, 0.72), (3367, 0.79), (3374, 0.5), (3380, 0.3),
    (3388, 0.18), (3396, 0.25), (3404, 0.4), (3412, 0.55), (3421, 0.61), (3428, 0.42),
    (3435, 0.35), (3440, 0.3), (3446, 0.2), (3453, 0.25), (3460, 0.3), (3466, 0.38),
    (3473, 0.3), (3482, 0.18), (3492, 0.15), (3500, 0.4), (3507, 0.7), (3513, 0.85),
    (3519, 0.5), (3525, 0.25), (3533, 0.1), (3540, 0.06), (3548, 0.2), (3556, 0.5),
    (3563, 0.75), (3570, 0.87), (3576, 0.4), (3583, 0.12), (3592, 0.2), (3600, 0.15),
    (3609, 0.18), (3617, 0.1), (3626, 0.12), (3636, 0.08), (3646, 0.06), (3658, 0.1),
    (3666, 0.04), (3678, 0.02), (3690, 0.03), (3702, 0.01), (3715, 0.02), (3728, 0.01),
    (3742, 0.04), (3751, 0.15), (3758, 0.25), (3765, 0.12), (3773, 0.04), (3782, 0.06),
    (3792, 0.3), (3798, 0.44), (3805, 0.25), (3812, 0.05), (3820, 0.03), (3828, 0.08),
    (3835, 0.08), (3842, 0.03), (3855, 0.01), (3870, 0.0), (3950, 0.0), (4000, 0.0)]

R_123K = [
    (1000, 0.01), (1010, 0.03), (1020, 0.01), (1030, 0.02), (1045, 0.01), (1060, 0.02),
    (1075, 0.01), (1090, 0.02), (1105, 0.01), (1120, 0.0), (1135, 0.02), (1150, 0.01),
    (1165, 0.02), (1180, 0.01), (1195, 0.02), (1210, 0.01), (1225, 0.03), (1240, 0.02),
    (1252, 0.04), (1262, 0.03), (1272, 0.06), (1280, 0.03), (1290, 0.04), (1300, 0.02),
    (1310, 0.01), (1322, 0.02), (1335, 0.01), (1348, 0.02), (1360, 0.01), (1375, 0.03),
    (1390, 0.01), (1405, 0.02), (1420, 0.04), (1432, 0.02), (1445, 0.03), (1458, 0.02),
    (1472, 0.01), (1485, 0.03), (1498, 0.01), (1510, 0.02), (1525, 0.03), (1540, 0.01),
    (1555, 0.02), (1570, 0.01), (1585, 0.02), (1600, 0.01), (1615, 0.02), (1628, 0.05),
    (1638, 0.1), (1645, 0.15), (1652, 0.08), (1660, 0.02), (1670, 0.01), (1680, 0.02),
    (1695, 0.01), (1710, 0.02), (1725, 0.01), (1740, 0.02), (1755, 0.01), (1770, 0.03),
    (1783, 0.04), (1795, 0.01), (1808, 0.02), (1820, 0.03), (1833, 0.01), (1845, 0.03),
    (1858, 0.02), (1870, 0.01), (1885, 0.03), (1900, 0.02), (1912, 0.04), (1920, 0.05),
    (1930, 0.01), (1942, 0.02), (1955, 0.03), (1965, 0.04), (1975, 0.01), (1988, 0.02),
    (2000, 0.04), (2010, 0.02), (2018, 0.05), (2026, 0.01), (2035, 0.03), (2045, 0.05),
    (2055, 0.02), (2065, 0.01), (2080, 0.02), (2095, 0.03), (2108, 0.05), (2120, 0.11),
    (2128, 0.04), (2138, 0.02), (2150, 0.03), (2162, 0.01), (2175, 0.03), (2188, 0.02),
    (2200, 0.03), (2213, 0.01), (2226, 0.02), (2240, 0.03), (2253, 0.01), (2266, 0.02),
    (2280, 0.01), (2295, 0.02), (2310, 0.01), (2325, 0.02), (2340, 0.01), (2355, 0.02),
    (2370, 0.01), (2385, 0.02), (2400, 0.01), (2415, 0.02), (2428, 0.04), (2437, 0.05),
    (2445, 0.02), (2458, 0.03), (2470, 0.01), (2485, 0.02), (2500, 0.01), (2515, 0.03),
    (2530, 0.02), (2549, 0.05), (2558, 0.03), (2568, 0.06), (2576, 0.1), (2584, 0.04),
    (2592, 0.02), (2605, 0.03), (2618, 0.02), (2630, 0.04), (2642, 0.03), (2655, 0.05),
    (2665, 0.04), (2674, 0.06), (2682, 0.03), (2695, 0.01), (2710, 0.02), (2725, 0.01),
    (2740, 0.02), (2755, 0.01), (2770, 0.02), (2785, 0.01), (2800, 0.02), (2815, 0.03),
    (2828, 0.02), (2840, 0.04), (2852, 0.02), (2865, 0.03), (2878, 0.02), (2890, 0.03),
    (2900, 0.04), (2912, 0.02), (2925, 0.03), (2940, 0.05), (2952, 0.03), (2962, 0.06),
    (2970, 0.07), (2980, 0.04), (2992, 0.06), (3005, 0.05), (3015, 0.08), (3025, 0.06),
    (3035, 0.09), (3047, 0.13), (3055, 0.08), (3063, 0.18), (3070, 0.1), (3078, 0.14),
    (3086, 0.12), (3095, 0.2), (3104, 0.26), (3110, 0.15), (3118, 0.18), (3126, 0.22),
    (3132, 0.15), (3140, 0.2), (3150, 0.12), (3160, 0.18), (3168, 0.34), (3175, 0.12),
    (3183, 0.08), (3190, 0.1), (3198, 0.08), (3206, 0.06), (3212, 0.2), (3218, 0.55),
    (3223, 0.82), (3229, 0.5), (3236, 0.1), (3244, 0.08), (3252, 0.1), (3260, 0.12),
    (3268, 0.15), (3276, 0.22), (3285, 0.32), (3292, 0.15), (3299, 0.28), (3305, 0.15),
    (3312, 0.12), (3320, 0.2), (3328, 0.3), (3335, 0.5), (3339, 0.66), (3345, 0.4),
    (3352, 0.25), (3360, 0.22), (3368, 0.18), (3376, 0.15), (3385, 0.2), (3395, 0.4),
    (3404, 0.72), (3410, 0.35), (3416, 0.3), (3422, 0.5), (3428, 0.72), (3434, 0.35),
    (3440, 0.3), (3446, 0.6), (3451, 0.93), (3457, 0.5), (3463, 0.3), (3470, 0.25),
    (3478, 0.35), (3484, 0.45), (3490, 0.66), (3496, 0.4), (3502, 0.3), (3508, 0.48),
    (3514, 0.3), (3522, 0.2), (3530, 0.18), (3540, 0.15), (3549, 0.22), (3555, 0.1),
    (3562, 0.06), (3570, 0.09), (3578, 0.12), (3588, 0.14), (3598, 0.18), (3605, 0.1),
    (3612, 0.08), (3622, 0.18), (3630, 0.1), (3638, 0.04), (3648, 0.03), (3658, 0.08),
    (3668, 0.12), (3675, 0.04), (3685, 0.01), (3700, 0.02), (3715, 0.01), (3730, 0.02),
    (3745, 0.01), (3758, 0.02), (3769, 0.12), (3776, 0.1), (3785, 0.12), (3792, 0.17),
    (3800, 0.08), (3808, 0.02), (3818, 0.02), (3825, 0.04), (3831, 0.06), (3838, 0.02),
    (3850, 0.0), (3900, 0.01), (4000, 0.0)]

LEFT_TRACES = [L_250K, L_167K, L_162K, L_153K, L_133K, L_123K]
RIGHT_TRACES = [R_250K, R_167K, R_162K, R_153K, R_133K, R_123K]
LEFT_LW = [2.2, 1.4, 1.5, 1.4, 1.4, 1.4]
RIGHT_LW = [1.9, 1.4, 1.6, 1.4, 1.4, 1.4]

FONT = 40

# Lorentzian line shape used to draw the optimized stick spectrum
freq = np.linspace(1000, 4000, 3001)


def stick_spectrum(pos, inten, scale, hwhm=5.0):
    y = np.zeros_like(freq)
    for p, h in zip(pos, inten):
        y += scale * h / (1.0 + ((freq - p) / hwhm) ** 2)
    return y


def draw_panel(ax, traces, offsets, widths, ymax, label_dy, opt_scale, opt_dy):
    for trace, off, lw, lab in zip(traces, offsets, widths, LABELS):
        xs = [p[0] for p in trace]
        ys = [off + p[1] for p in trace]
        ax.plot(xs, ys, color='black', lw=lw)
        ax.text(1803, off + label_dy, lab, fontsize=FONT, ha='left', va='baseline')

    ax.plot(freq, stick_spectrum(OPT_POS, OPT_INT, opt_scale), color='black', lw=1.1)
    ax.text(1098, opt_dy, 'Optimized', fontsize=FONT, ha='left', va='baseline')

    ax.set_xlim(1000, 4000)
    ax.set_ylim(0, ymax)
    ax.set_xticks([1000, 2000, 3000, 4000])
    ax.set_yticks([1, 2, 3, 4, 5])
    ax.set_yticklabels([])
    ax.tick_params(axis='both', which='both', direction='in', length=7, width=1,
                   top=True, right=True, labelsize=FONT, pad=25)
    # tick labels sit a little right of their ticks in the original
    shift = ScaledTranslation(0.065, 0, ax.figure.dpi_scale_trans)
    for lab in ax.get_xticklabels():
        lab.set_transform(lab.get_transform() + shift)
    ax.set_xlabel(r'Frequency (cm$^{\text{-1}}$)', fontsize=FONT)
    ax.xaxis.set_label_coords(0.5, -0.108)
    for sp in ax.spines.values():
        sp.set_linewidth(1.0)


fig = plt.figure(figsize=(16.5, 13.34), dpi=100)
ax_left = fig.add_axes([0.0759, 0.1283, 0.3910, 0.8330])
ax_right = fig.add_axes([0.6014, 0.1283, 0.3903, 0.8330])

draw_panel(ax_left, LEFT_TRACES, LEFT_OFFSETS, LEFT_LW, 6.0, 0.19, 1.0, 0.30)
draw_panel(ax_right, RIGHT_TRACES, RIGHT_OFFSETS, RIGHT_LW, 5.35, 0.28,
           OPT_RIGHT_SCALE, 0.28)

fig.savefig('out.png', dpi=100)
